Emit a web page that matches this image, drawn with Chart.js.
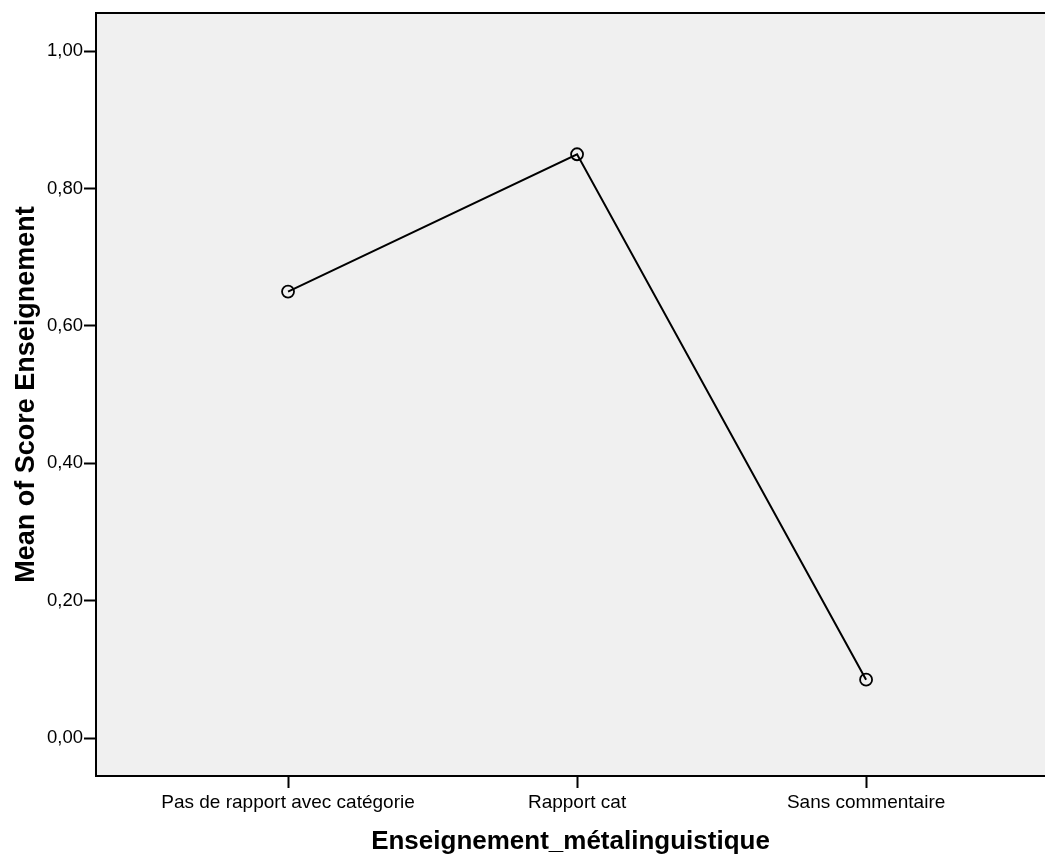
<!DOCTYPE html>
<html>
<head>
<meta charset="utf-8">
<script src="https://cdn.jsdelivr.net/npm/chart.js@4/dist/chart.umd.min.js"></script>
<style>
html,body{margin:0;padding:0;background:#fff;overflow:hidden;}
#wrap{width:1045px;height:857px;}
canvas{display:block;}
</style>
</head>
<body>
<div id="wrap"><canvas id="c" width="1045" height="857"></canvas></div>
<script>
const categories = ["Pas de rapport avec catégorie", "Rapport cat", "Sans commentaire"];
const meanScores = [0.65, 0.85, 0.085];
const yTicks = [0, 0.2, 0.4, 0.6, 0.8, 1.0];
const xTitle = "Enseignement_métalinguistique";
const yTitle = "Mean of Score Enseignement";

const FONT = "'Liberation Sans', Arial, sans-serif";

const bgPlugin = {
  id: 'bg',
  beforeDraw(chart) {
    const {ctx, chartArea: a} = chart;
    ctx.save();
    ctx.fillStyle = '#f0f0f0';
    ctx.fillRect(a.left, a.top, a.right - a.left, a.bottom - a.top);
    ctx.strokeStyle = '#000';
    ctx.lineWidth = 2;
    ctx.beginPath();
    ctx.moveTo(a.left, a.top);
    ctx.lineTo(a.right, a.top);
    ctx.stroke();
    ctx.restore();
  }
};

new Chart(document.getElementById('c'), {
  type: 'line',
  data: {
    datasets: [{
      data: meanScores.map((v, i) => ({x: i, y: v})),
      borderColor: '#000',
      borderWidth: 2,
      pointRadius: 6,
      pointBorderWidth: 1.8,
      pointBorderColor: '#000',
      pointBackgroundColor: 'rgba(0,0,0,0)',
      pointHoverRadius: 6,
      tension: 0,
      clip: false
    }]
  },
  options: {
    responsive: false,
    animation: false,
    events: [],
    layout: {autoPadding: false, padding: {top: 13, right: 0, left: 0, bottom: 0}},
    plugins: {legend: {display: false}, tooltip: {enabled: false}},
    scales: {
      x: {
        type: 'linear',
        min: -0.6644,
        max: 2.619,
        afterBuildTicks(s) { s.ticks = categories.map((c, i) => ({value: i})); },
        afterFit(s) { s.height = 81; s.paddingLeft = 0; s.paddingRight = 0; },
        ticks: {
          callback: (v) => categories[v] ?? '',
          color: '#000',
          font: {family: FONT, size: 19},
          padding: 3,
          maxRotation: 0,
          autoSkip: false
        },
        grid: {drawOnChartArea: false, drawTicks: true, tickLength: 12, tickColor: '#000', tickWidth: 2},
        border: {display: true, color: '#000', width: 2},
        title: {
          display: true,
          text: xTitle,
          color: '#000',
          font: {family: FONT, size: 26, weight: 'bold'},
          padding: {top: 0, bottom: 0}
        }
      },
      y: {
        type: 'linear',
        min: -0.0553,
        max: 1.0557,
        afterBuildTicks(s) { s.ticks = yTicks.map(v => ({value: v})); },
        afterFit(s) { s.width = 96; s.paddingTop = 0; s.paddingBottom = 0; },
        ticks: {
          callback: (v) => v.toFixed(2).replace('.', ','),
          color: '#000',
          font: {family: FONT, size: 18.5},
          padding: 1
        },
        grid: {drawOnChartArea: false, drawTicks: true, tickLength: 12, tickColor: '#000', tickWidth: 2},
        border: {display: true, color: '#000', width: 2},
        title: {
          display: true,
          text: yTitle,
          color: '#000',
          font: {family: FONT, size: 27, weight: 'bold'},
          padding: {top: 10, bottom: 10}
        }
      }
    }
  },
  plugins: [bgPlugin]
});
</script>
</body>
</html>
